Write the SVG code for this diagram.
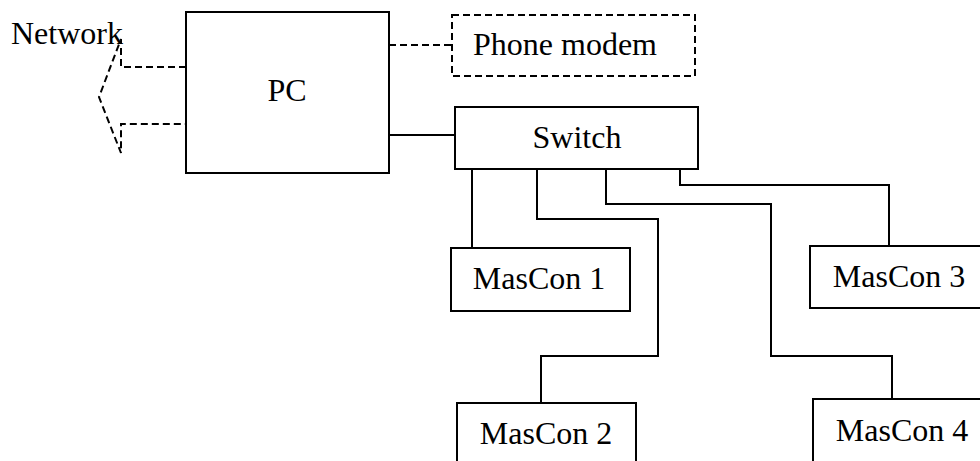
<svg xmlns="http://www.w3.org/2000/svg" width="980" height="461" viewBox="0 0 980 461">
<style>
.box{fill:#fff;stroke:#000;stroke-width:2}
.dash{fill:none;stroke:#000;stroke-width:2;stroke-dasharray:7 4}
.ln{fill:none;stroke:#000;stroke-width:2}
text{font-family:"Liberation Serif","Times New Roman",serif;font-size:32px;fill:#000}
.c{text-anchor:middle}
</style>
<rect width="980" height="461" fill="#fff"/>
<g id="connectors">
<path class="dash" d="M389 45 H452"/>
<path class="ln" d="M389 135 H455"/>
<path class="ln" d="M472 169 V248"/>
<path class="ln" d="M537 169 V219 H658 V356 H541 V403"/>
<path class="ln" d="M606 169 V204 H771 V356 H892 V399"/>
<path class="ln" d="M680 169 V185 H889 V246"/>
</g>
<g id="network">
<path class="dash" d="M186 67 H121 V39 L99 97 L121 153 V124 H186"/>
<text x="11" y="44">Network</text>
</g>
<g id="pc">
<rect class="box" x="186" y="12" width="203" height="161"/>
<text class="c" x="287" y="101">PC</text>
</g>
<g id="phone-modem">
<rect class="dash" x="452" y="15" width="243" height="61"/>
<text x="473" y="55">Phone modem</text>
</g>
<g id="switch">
<rect class="box" x="455" y="107" width="243" height="62"/>
<text class="c" x="577" y="148">Switch</text>
</g>
<g id="mascon1">
<rect class="box" x="451" y="248" width="179" height="63"/>
<text class="c" x="539" y="289">MasCon 1</text>
</g>
<g id="mascon2">
<rect class="box" x="457" y="403" width="179" height="70"/>
<text class="c" x="546" y="444">MasCon 2</text>
</g>
<g id="mascon3">
<rect class="box" x="810" y="246" width="180" height="62"/>
<text class="c" x="899" y="287">MasCon 3</text>
</g>
<g id="mascon4">
<rect class="box" x="813" y="399" width="180" height="75"/>
<text class="c" x="902" y="441">MasCon 4</text>
</g>
</svg>
